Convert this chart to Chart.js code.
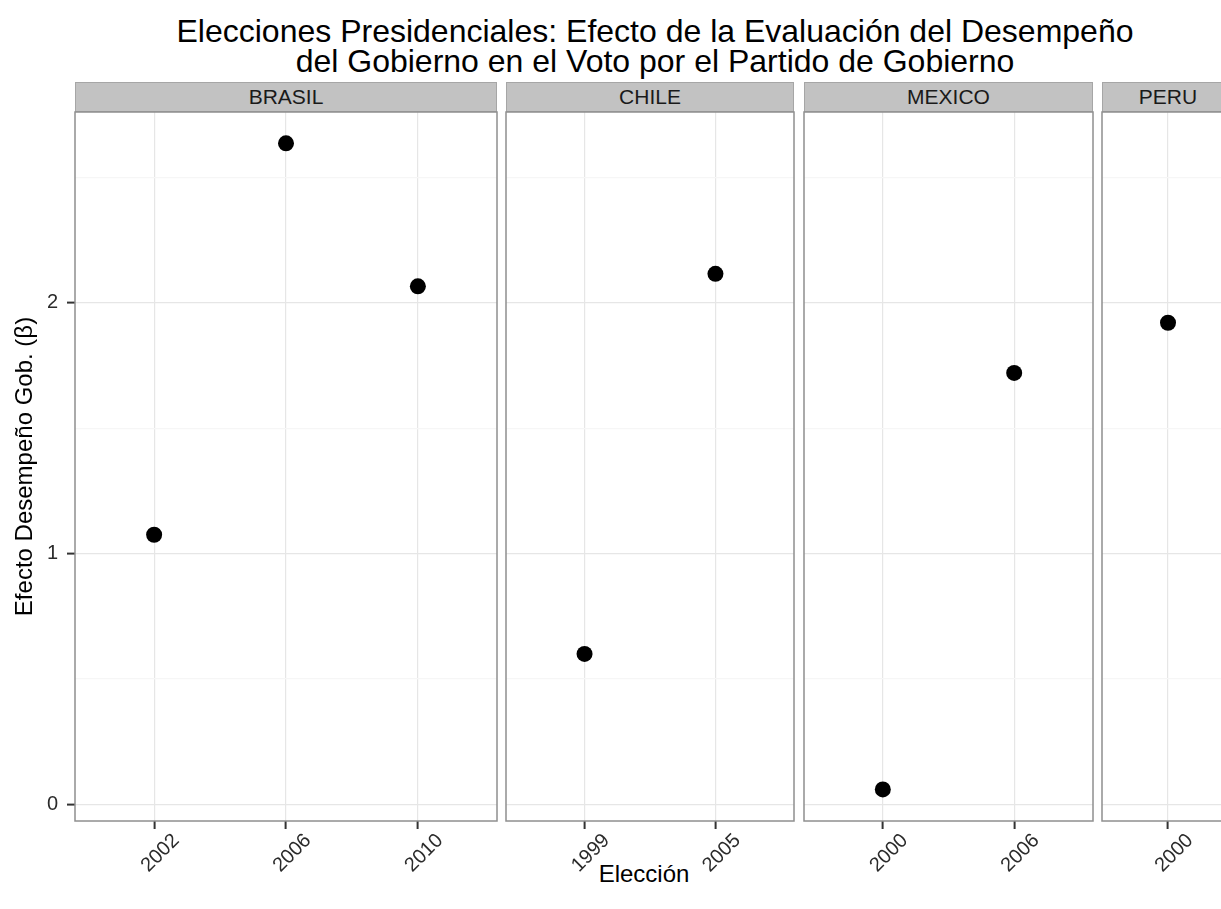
<!DOCTYPE html>
<html>
<head>
<meta charset="utf-8">
<script src="https://cdn.jsdelivr.net/npm/chart.js@4.4.0/dist/chart.umd.min.js"></script>
<style>
  html, body { margin: 0; padding: 0; background: #fff; }
  body { width: 1221px; height: 909px; position: relative; overflow: hidden;
         font-family: "Liberation Sans", Arial, Helvetica, sans-serif; }
  .title { position: absolute; left: 0; width: 1310px; top: 16px; text-align: center;
           font-size: 32px; line-height: 30px; color: #000; }
  .strip { position: absolute; top: 82px; height: 30px; box-sizing: border-box;
           background: #c2c2c2; border: 1px solid #a6a6a6; text-align: center;
           font-size: 21px; line-height: 28px; color: #1a1a1a; }
  .xtitle { position: absolute; left: 0; width: 1288px; top: 860px; text-align: center;
            font-size: 24px; line-height: 28px; color: #000; }
  canvas { position: absolute; }
</style>
</head>
<body>
<div class="title">Elecciones Presidenciales: Efecto de la Evaluación del Desempeño<br>del Gobierno en el Voto por el Partido de Gobierno</div>
<div class="xtitle">Elección</div>
<script>
// Facet names
const countries = ['BRASIL', 'CHILE', 'MEXICO', 'PERU'];

// Election years (categories) and estimated effect per country
const brasilYears = ['2002', '2006', '2010'];
const brasilBeta  = [1.075, 2.635, 2.065];
const chileYears  = ['1999', '2005'];
const chileBeta   = [0.60, 2.115];
const mexicoYears = ['2000', '2006'];
const mexicoBeta  = [0.06, 1.72];
const peruYears   = ['2000'];
const peruBeta    = [1.92];

// Y axis breaks
const yBreaks      = [0, 1, 2];
const yMinorBreaks = [0.5, 1.5, 2.5];

const facetYears = [brasilYears, chileYears, mexicoYears, peruYears];
const facetBeta  = [brasilBeta, chileBeta, mexicoBeta, peruBeta];

// Panel geometry (page pixels)
const panelX = [[75, 497], [506, 794], [804, 1093], [1102, 1234]];
const PLOT_TOP = 112, PLOT_BOTTOM = 821;
const Y_MIN = -0.066, Y_MAX = 2.76;
const X_PAD = [0.6, 0.6, 0.6, 0.5];

// Thin grey frame around each panel
const panelFrame = {
  id: 'panelFrame',
  afterDraw(chart) {
    const { ctx, chartArea: a } = chart;
    ctx.save();
    ctx.strokeStyle = '#8f8f8f';
    ctx.lineWidth = 1.5;
    ctx.strokeRect(a.left, a.top, a.right - a.left, a.bottom - a.top);
    ctx.restore();
  }
};

const yGrid = [...yBreaks, ...yMinorBreaks].sort((a, b) => a - b);

countries.forEach((name, i) => {
  const [x0, x1] = panelX[i];

  // strip label
  const strip = document.createElement('div');
  strip.className = 'strip';
  strip.style.left = x0 + 'px';
  strip.style.width = (x1 - x0) + 'px';
  strip.textContent = name;
  document.body.appendChild(strip);

  const first = i === 0;
  const canvasLeft = first ? 0 : x0 - 2;
  const canvasTop = PLOT_TOP - 2;
  const w = x1 + 2 - canvasLeft;
  const h = 909 - canvasTop;
  const cv = document.createElement('canvas');
  cv.width = w; cv.height = h;
  cv.style.left = canvasLeft + 'px';
  cv.style.top = canvasTop + 'px';
  cv.style.width = w + 'px';
  cv.style.height = h + 'px';
  document.body.appendChild(cv);

  const years = facetYears[i];
  const beta = facetBeta[i];
  const axisH = h - 2 - (PLOT_BOTTOM - PLOT_TOP);

  new Chart(cv, {
    type: 'scatter',
    data: {
      datasets: [{
        data: years.map((_, k) => ({ x: k, y: beta[k] })),
        pointRadius: 8,
        pointHoverRadius: 8,
        backgroundColor: '#000',
        borderWidth: 0
      }]
    },
    options: {
      responsive: false,
      animation: false,
      devicePixelRatio: 1,
      layout: { autoPadding: false, padding: { left: first ? 0 : 2, right: 2, top: 2, bottom: 0 } },
      plugins: { legend: { display: false }, tooltip: { enabled: false } },
      scales: {
        x: {
          type: 'linear',
          min: -X_PAD[i],
          max: years.length - 1 + X_PAD[i],
          afterBuildTicks: s => { s.ticks = years.map((_, k) => ({ value: k })); },
          afterFit: s => {
            s.height = axisH;
            s.paddingLeft = 0; s.paddingRight = 0; s.paddingTop = 0; s.paddingBottom = 0;
          },
          ticks: {
            autoSkip: false, minRotation: 45, maxRotation: 45,
            labelOffset: 22, padding: 0,
            color: '#2b2b2b', font: { family: 'Liberation Sans', size: 20 },
            callback: v => years[v]
          },
          grid: { color: '#e6e6e6', lineWidth: 1.2, tickLength: 8, tickColor: '#333', tickWidth: 2 },
          border: { display: false }
        },
        y: {
          type: 'linear',
          min: Y_MIN, max: Y_MAX,
          afterBuildTicks: s => { s.ticks = yGrid.map(v => ({ value: v })); },
          afterFit: s => {
            s.width = first ? 75 : 0;
            s.paddingLeft = 0; s.paddingRight = 0; s.paddingTop = 0; s.paddingBottom = 0;
          },
          ticks: {
            display: first, autoSkip: false, padding: 9,
            color: '#2b2b2b', font: { family: 'Liberation Sans', size: 20 },
            callback: v => (yBreaks.includes(v) ? String(v) : '')
          },
          grid: {
            color: c => (yBreaks.includes(c.tick.value) ? '#e6e6e6' : '#f6f6f6'),
            lineWidth: 1.2,
            drawTicks: first,
            tickLength: 8,
            tickWidth: 2,
            tickColor: c => (yBreaks.includes(c.tick.value) ? '#333' : 'rgba(0,0,0,0)')
          },
          border: { display: false },
          title: {
            display: first,
            text: 'Efecto Desempeño Gob. (β)',
            color: '#000',
            font: { family: 'Liberation Sans', size: 24 },
            padding: { top: 11, bottom: 0 }
          }
        }
      }
    },
    plugins: [panelFrame]
  });
});
</script>
</body>
</html>
